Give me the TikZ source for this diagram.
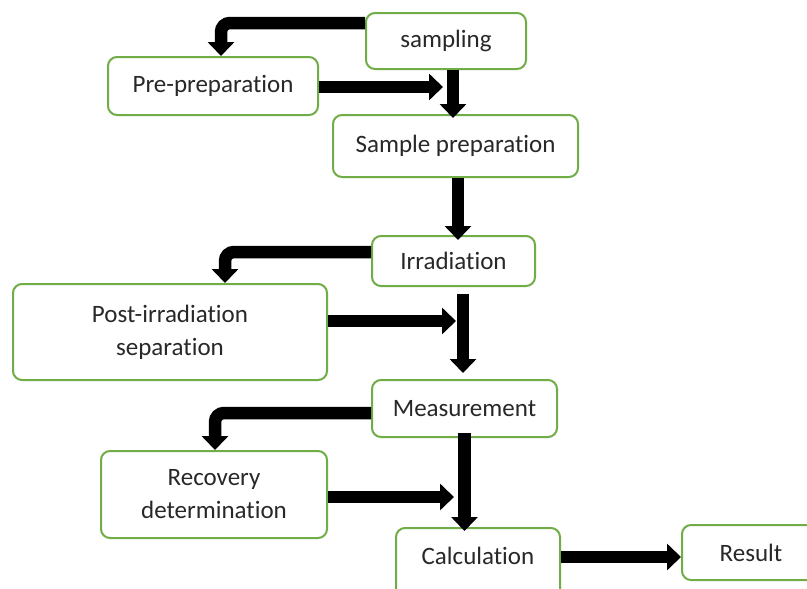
\documentclass[tikz,border=0pt]{standalone}
\usepackage{fontspec}
\setmainfont[Ligatures={NoCommon,NoContextual}]{Carlito}
\usetikzlibrary{arrows.meta}
\definecolor{boxgreen}{RGB}{112,173,71}
\definecolor{txt}{RGB}{40,40,40}
\begin{document}
\begin{tikzpicture}[x=1pt,y=-1pt,
  box/.style={draw=boxgreen, line width=2pt, rounded corners=9pt, fill=white,
    text=txt, font=\fontsize{25}{33}\selectfont, align=center, inner sep=0pt},
  bigarrow/.style={line width=12.5pt, draw=black, rounded corners=9pt,
    -{Triangle[length=14pt,width=26pt]}}]
\useasboundingbox (0,0) rectangle (807,589);
\clip (0,0) rectangle (807,589);
\fill[white] (0,0) rectangle (807,589);

\node[box, minimum width=160pt, minimum height=56pt] (sampling) at (446,41) {sampling};
\node[box, minimum width=210pt, minimum height=58pt] (prepre) at (213,86) {Pre-preparation};
\node[box, minimum width=245pt, minimum height=62pt] (sampprep) at (455.5,146) {Sample preparation};
\node[box, minimum width=163pt, minimum height=50pt] (irr) at (453.5,261) {Irradiation};
\node[box, minimum width=314pt, minimum height=96pt] (postirr) at (170,332) {Post-irradiation\\separation};
\node[box, minimum width=185pt, minimum height=57pt] (meas) at (464.5,408.5) {Measurement};
\node[box, minimum width=226pt, minimum height=87pt] (recov) at (214,494.5) {Recovery\\determination};
\node[box, minimum width=164pt, minimum height=76pt] (calc) at (478,566) {\raisebox{20pt}{Calculation}};
\node[box, minimum width=138pt, minimum height=55pt] (result) at (751,552.5) {Result};

\coordinate (j1) at (443,87);
\coordinate (j2) at (456,321);
\coordinate (j3) at (454,497);

% sampling branch
\draw[bigarrow] ([yshift=18pt]sampling.west) -| ([xshift=8pt]prepre.north);
\draw[bigarrow] ([yshift=-1pt]prepre.east) -- (j1);
\draw[bigarrow] ([xshift=7pt]sampling.south) -- ([xshift=7pt,yshift=-4pt]sampling.south |- sampprep.north);
\draw[bigarrow] ([xshift=2.5pt]sampprep.south) -- ([xshift=2.5pt,yshift=-5pt]sampprep.south |- irr.north);

% irradiation branch
\draw[bigarrow] ([yshift=9pt]irr.west) -| ([xshift=55pt]postirr.north);
\draw[bigarrow] ([yshift=11pt]postirr.east) -- (j2);
\draw[bigarrow] ([xshift=9.5pt,yshift=-7pt]irr.south) -- ([xshift=9.5pt,yshift=6pt]irr.south |- meas.north);

% measurement branch
\draw[bigarrow] ([yshift=-4.5pt]meas.west) -| ([xshift=1pt]recov.north);
\draw[bigarrow] ([yshift=-2.5pt]recov.east) -- (j3);
\draw[bigarrow] ([yshift=5pt]meas.south) -- ([yshift=-4pt]meas.south |- calc.north);

% result
\draw[bigarrow] ([yshift=9pt]calc.east) -- ([yshift=9pt]calc.east -| result.west);
\end{tikzpicture}
\end{document}
